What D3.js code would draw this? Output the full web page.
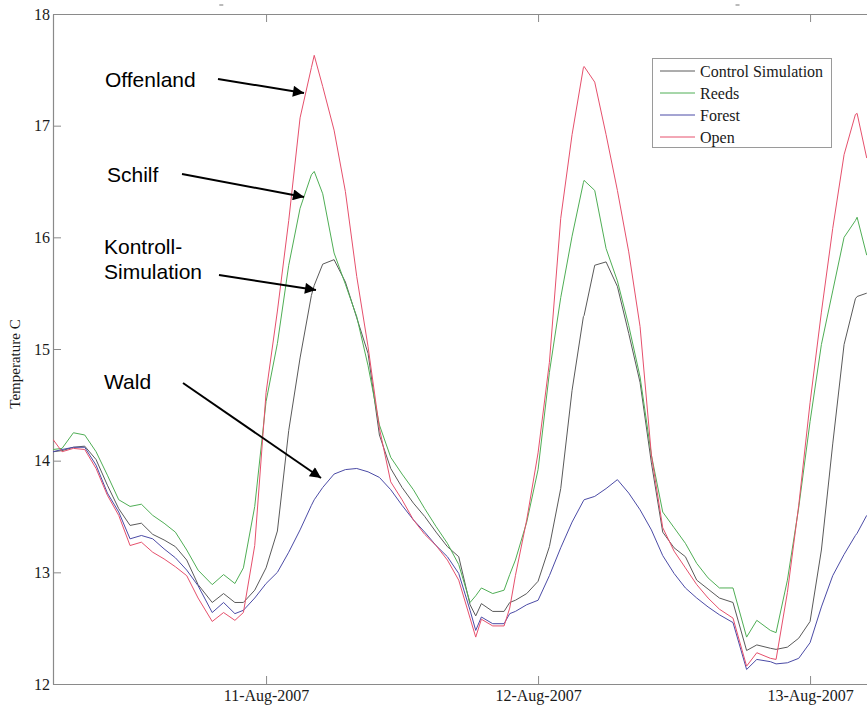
<!DOCTYPE html>
<html>
<head>
<meta charset="utf-8">
<script src="https://cdn.jsdelivr.net/npm/d3@7"></script>
<style>
  html, body { margin: 0; padding: 0; background: #fff; }
  svg { display: block; }
</style>
</head>
<body>
<svg id="chart" width="867" height="706"></svg>
<script>
// Simulated air temperature, 10–13 Aug 2007, four land-cover scenarios.
// Sample times in hours relative to 11-Aug-2007 00:00 (UTC).
const hours = [
  -18.8, -18, -17, -16, -15, -14, -13, -12, -11, -10,
  -9, -8, -7, -6, -4.75, -3.75, -2.75, -2, -1, 0,
  1, 2, 3, 4, 4.25, 5, 6, 7, 8, 9,
  10, 11, 12, 13, 14, 15, 16, 17, 18, 18.5,
  19, 20, 21, 21.5, 22, 23, 24, 25, 26, 27,
  28, 28.06, 29, 30, 31, 32, 33, 34, 35, 36,
  37, 38, 39, 40, 41.2, 42.4, 43.3, 44.5, 45, 46,
  47, 48, 49, 50, 51, 52, 52.15, 53
];

const controlSim = [
  14.08, 14.09, 14.12, 14.13, 14.01, 13.78, 13.57, 13.42, 13.44, 13.34,
  13.29, 13.23, 13.11, 12.89, 12.73, 12.81, 12.73, 12.73, 12.84, 13.04,
  13.37, 14.27, 14.92, 15.48, 15.57, 15.76, 15.80, 15.60, 15.28, 14.96,
  14.23, 13.93, 13.76, 13.62, 13.50, 13.36, 13.23, 13.14, 12.71, 12.61,
  12.72, 12.65, 12.65, 12.73, 12.75, 12.81, 12.92, 13.23, 13.75, 14.63,
  15.29, 15.30, 15.75, 15.78, 15.56, 15.14, 14.70, 13.98, 13.36, 13.22,
  13.14, 12.93, 12.85, 12.77, 12.73, 12.30, 12.35, 12.32, 12.31, 12.33,
  12.41, 12.56, 13.20, 14.15, 15.04, 15.45, 15.47, 15.50
];

const reeds = [
  14.10, 14.11, 14.25, 14.23, 14.08, 13.87, 13.65, 13.59, 13.61, 13.51,
  13.44, 13.36, 13.20, 13.02, 12.89, 12.98, 12.90, 13.04, 13.59, 14.53,
  15.05, 15.75, 16.26, 16.56, 16.59, 16.39, 15.86, 15.58, 15.29, 14.85,
  14.32, 14.03, 13.88, 13.74, 13.57, 13.41, 13.26, 13.07, 12.73, 12.79,
  12.86, 12.81, 12.84, 12.98, 13.11, 13.45, 13.92, 14.79, 15.46, 16.01,
  16.49, 16.51, 16.42, 15.90, 15.61, 15.21, 14.75, 14.05, 13.54, 13.40,
  13.26, 13.08, 12.95, 12.86, 12.86, 12.42, 12.57, 12.48, 12.46, 12.93,
  13.58, 14.35, 15.04, 15.52, 16.00, 16.15, 16.18, 15.84
];

const forest = [
  14.08, 14.10, 14.12, 14.12, 13.96, 13.71, 13.54, 13.30, 13.33, 13.30,
  13.21, 13.13, 13.02, 12.88, 12.64, 12.73, 12.63, 12.66, 12.77, 12.90,
  13.00, 13.18, 13.38, 13.60, 13.65, 13.76, 13.88, 13.92, 13.93, 13.90,
  13.85, 13.74, 13.60, 13.47, 13.36, 13.24, 13.14, 12.99, 12.66, 12.48,
  12.60, 12.54, 12.54, 12.63, 12.65, 12.71, 12.75, 12.97, 13.22, 13.45,
  13.64, 13.65, 13.68, 13.75, 13.83, 13.71, 13.56, 13.38, 13.15, 12.99,
  12.86, 12.77, 12.69, 12.62, 12.55, 12.13, 12.22, 12.20, 12.18, 12.19,
  12.23, 12.37, 12.69, 12.97, 13.16, 13.33, 13.35, 13.51
];

const open = [
  14.19, 14.08, 14.11, 14.10, 13.93, 13.69, 13.51, 13.24, 13.27, 13.18,
  13.12, 13.05, 12.97, 12.77, 12.56, 12.64, 12.57, 12.64, 13.24, 14.61,
  15.34, 16.15, 17.07, 17.52, 17.63, 17.35, 16.96, 16.41, 15.65, 15.02,
  14.29, 13.81, 13.65, 13.47, 13.34, 13.24, 13.11, 12.93, 12.59, 12.42,
  12.58, 12.52, 12.52, 12.68, 12.97, 13.47, 14.07, 14.88, 16.17, 16.92,
  17.52, 17.53, 17.39, 16.92, 16.42, 15.87, 15.20, 14.05, 13.40, 13.19,
  13.04, 12.89, 12.77, 12.67, 12.59, 12.16, 12.28, 12.23, 12.22, 12.82,
  13.60, 14.52, 15.33, 16.08, 16.74, 17.10, 17.11, 16.71
];

const seriesNames = ["Control Simulation", "Reeds", "Forest", "Open"];
const seriesValues = [controlSim, reeds, forest, open];
const seriesColors = ["#5a5a5a", "#4fae55", "#4b4ba6", "#e6506c"];

const yTicks = [12, 13, 14, 15, 16, 17, 18];
const xTickDays = ["2007-08-11", "2007-08-12", "2007-08-13"];
const yLabel = "Temperature C";

// Callout labels (German) pointing at the curves
const calloutLines = [["Offenland"], ["Schilf"], ["Kontroll-", "Simulation"], ["Wald"]];

// ---- layout ----
const svg = d3.select("#chart");
const W = 867, H = 706;
const plot = { left: 53, top: 14, right: 869, bottom: 684 };

const t0 = Date.UTC(2007, 7, 11, 0, 0);
const toDate = h => new Date(t0 + h * 3600e3);

const x = d3.scaleUtc()
  .domain([toDate(-18.8), toDate(53.2)])
  .range([plot.left, plot.right]);
const y = d3.scaleLinear().domain([12, 18]).range([plot.bottom, plot.top]);

svg.append("defs").append("clipPath").attr("id", "plotClip")
  .append("rect")
  .attr("x", plot.left).attr("y", plot.top)
  .attr("width", plot.right - plot.left).attr("height", plot.bottom - plot.top);

const axisColor = "#8a8a8a";
const serif = "'Liberation Serif', 'Times New Roman', serif";

// ---- axes (box with inward ticks) ----
const xTickDates = xTickDays.map(s => new Date(s + "T00:00:00Z"));
const fmt = d3.utcFormat("%d-%b-%Y");

const gx = svg.append("g")
  .attr("transform", `translate(0,${plot.bottom})`)
  .call(d3.axisBottom(x).tickValues(xTickDates).tickFormat(fmt)
    .tickSizeInner(-8).tickSizeOuter(0).tickPadding(6));

const gxTop = svg.append("g")
  .attr("transform", `translate(0,${plot.top})`)
  .call(d3.axisTop(x).tickValues(xTickDates).tickFormat("")
    .tickSizeInner(-8).tickSizeOuter(0));

const gy = svg.append("g")
  .attr("transform", `translate(${plot.left},0)`)
  .call(d3.axisLeft(y).tickValues(yTicks).tickFormat(d3.format("d"))
    .tickSizeInner(-8).tickSizeOuter(0).tickPadding(3));

[gx, gxTop, gy].forEach(g => {
  g.select(".domain").attr("stroke", axisColor).attr("stroke-width", 1.2);
  g.selectAll(".tick line").attr("stroke", axisColor);
  g.selectAll(".tick text")
    .attr("fill", "#1a1a1a")
    .style("font-family", serif)
    .style("font-size", "16px");
});

// y-axis title
svg.append("text")
  .attr("transform", `translate(20,${(plot.top + plot.bottom) / 2 + 15}) rotate(-90)`)
  .attr("text-anchor", "middle")
  .style("font-family", serif)
  .style("font-size", "15px")
  .attr("fill", "#1a1a1a")
  .text(yLabel);

// small clipped remnants along the top edge
svg.append("g").selectAll("line")
  .data([toDate(-3.95), toDate(41.6)])
  .join("line")
  .attr("x1", d => x(d) - 2).attr("x2", d => x(d) + 2)
  .attr("y1", 5).attr("y2", 5)
  .attr("stroke", "#777").attr("stroke-width", 1);

// ---- series ----
const line = d3.line()
  .x(d => x(toDate(d.h)))
  .y(d => y(d.v));

const gLines = svg.append("g").attr("clip-path", "url(#plotClip)");
seriesValues.forEach((vals, i) => {
  const pts = hours.map((h, k) => ({ h, v: vals[k] }));
  gLines.append("path")
    .datum(pts)
    .attr("fill", "none")
    .attr("stroke", seriesColors[i])
    .attr("stroke-width", 1)
    .attr("stroke-linejoin", "round")
    .attr("d", line);
});

// ---- legend ----
const legend = svg.append("g");
legend.append("rect")
  .attr("x", 652.5).attr("y", 58.5).attr("width", 179).attr("height", 89)
  .attr("fill", "#fff").attr("stroke", "#9a9a9a").attr("stroke-width", 1);
seriesNames.forEach((name, i) => {
  const cy = 71 + i * 22;
  legend.append("line")
    .attr("x1", 660).attr("x2", 695).attr("y1", cy).attr("y2", cy)
    .attr("stroke", seriesColors[i]).attr("stroke-width", 1);
  legend.append("text")
    .attr("x", 700).attr("y", cy).attr("dy", "0.35em")
    .style("font-family", serif).style("font-size", "16px")
    .attr("fill", "#1a1a1a")
    .text(name);
});

// ---- callouts with arrows ----
svg.select("defs").append("marker")
  .attr("id", "arrowHead")
  .attr("viewBox", "0 0 10 10")
  .attr("refX", 10).attr("refY", 5)
  .attr("markerWidth", 7.5).attr("markerHeight", 5.5)
  .attr("markerUnits", "strokeWidth")
  .attr("orient", "auto")
  .append("path").attr("d", "M0,0 L10,5 L0,10 Z").attr("fill", "#000");

const calloutText = [
  { x: 105, y: 87 },
  { x: 107, y: 182 },
  { x: 104, y: 254 },
  { x: 104, y: 389 }
];
const calloutArrow = [
  { from: [218, 79], to: [304, 93] },
  { from: [182, 174], to: [304, 197] },
  { from: [219, 275], to: [316, 290] },
  { from: [183, 383], to: [321, 478] }
];

calloutLines.forEach((lines, i) => {
  const t = svg.append("text")
    .attr("x", calloutText[i].x).attr("y", calloutText[i].y)
    .style("font-family", "'Liberation Sans', Arial, sans-serif")
    .style("font-size", "21px")
    .attr("fill", "#000");
  lines.forEach((s, j) => {
    t.append("tspan").attr("x", calloutText[i].x).attr("dy", j === 0 ? 0 : 25).text(s);
  });
  const a = calloutArrow[i];
  svg.append("line")
    .attr("x1", a.from[0]).attr("y1", a.from[1])
    .attr("x2", a.to[0]).attr("y2", a.to[1])
    .attr("stroke", "#000").attr("stroke-width", 2)
    .attr("marker-end", "url(#arrowHead)");
});
</script>
</body>
</html>
